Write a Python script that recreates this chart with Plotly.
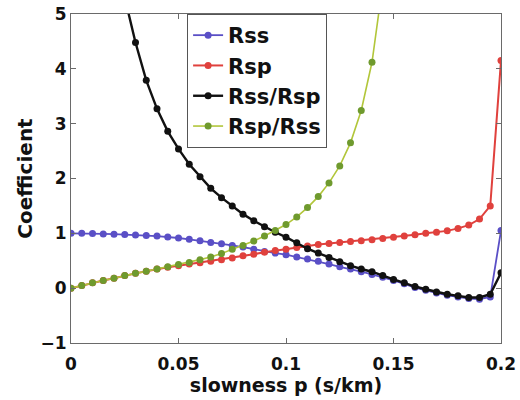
import plotly.graph_objects as go

# slowness samples (s/km)
p = [0.000, 0.005, 0.010, 0.015, 0.020, 0.025, 0.030, 0.035, 0.040, 0.045,
     0.050, 0.055, 0.060, 0.065, 0.070, 0.075, 0.080, 0.085, 0.090, 0.095,
     0.100, 0.105, 0.110, 0.115, 0.120, 0.125, 0.130, 0.135, 0.140, 0.145,
     0.150, 0.155, 0.160, 0.165, 0.170, 0.175, 0.180, 0.185, 0.190, 0.195,
     0.200]

rss = [1.00, 1.00, 0.995, 0.99, 0.985, 0.98, 0.97, 0.96, 0.95, 0.935,
       0.915, 0.89, 0.865, 0.835, 0.81, 0.78, 0.75, 0.71, 0.67, 0.64,
       0.61, 0.57, 0.53, 0.49, 0.44, 0.39, 0.35, 0.30, 0.25, 0.20,
       0.14, 0.08, 0.01, -0.04, -0.09, -0.13, -0.16, -0.19, -0.20, -0.16,
       1.05]

rsp = [0.00, 0.05, 0.10, 0.14, 0.18, 0.23, 0.27, 0.31, 0.35, 0.38,
       0.41, 0.44, 0.465, 0.49, 0.52, 0.55, 0.59, 0.62, 0.655, 0.685,
       0.71, 0.74, 0.77, 0.795, 0.815, 0.835, 0.85, 0.865, 0.885, 0.905,
       0.93, 0.95, 0.975, 1.00, 1.02, 1.045, 1.09, 1.15, 1.26, 1.50,
       4.15]

rss_over_rsp = [None, 26.0, 13.0, 8.6, 6.6, 5.3, 4.48, 3.79, 3.27, 2.86,
                2.54, 2.26, 2.03, 1.82, 1.65, 1.50, 1.35, 1.23, 1.12, 1.02,
                0.93, 0.83, 0.72, 0.64, 0.56, 0.48, 0.41, 0.35, 0.30, 0.23,
                0.16, 0.10, 0.03, -0.02, -0.07, -0.11, -0.14, -0.17, -0.17, -0.11,
                0.28]

rsp_over_rss = [0.00, 0.05, 0.10, 0.14, 0.18, 0.23, 0.27, 0.31, 0.35, 0.39,
                0.43, 0.47, 0.52, 0.57, 0.63, 0.71, 0.78, 0.86, 0.95, 1.05,
                1.16, 1.30, 1.47, 1.67, 1.92, 2.23, 2.65, 3.24, 4.12, 5.55,
                7.6, 11.5, None, None, None, None, None, None, None, None,
                None]

x_ticks = [0, 0.05, 0.1, 0.15, 0.2]
x_tick_text = ["0", "0.05", "0.1", "0.15", "0.2"]
y_ticks = [-1, 0, 1, 2, 3, 4, 5]
y_tick_text = ["\u22121", "0", "1", "2", "3", "4", "5"]

series = [
    ("Rss", rss, "#5a4fc6", "#5a4fc6", 1.8),
    ("Rsp", rsp, "#e0413d", "#e0413d", 2.0),
    ("Rss/Rsp", rss_over_rsp, "#111111", "#111111", 2.4),
    ("Rsp/Rss", rsp_over_rss, "#b2c63a", "#6f9a2e", 1.6),
]

FONT = "DejaVu Sans"

fig = go.Figure()
for name, vals, lcol, mcol, lw in series:
    fig.add_trace(go.Scatter(
        x=p, y=vals, name=name, mode="lines+markers",
        line=dict(color=lcol, width=lw),
        marker=dict(color=mcol, size=7),
        legendgroup=name,
        connectgaps=False,
    ))

axis_common = dict(
    showgrid=False, zeroline=False,
    showline=True, linecolor="#6a6a6a", linewidth=1, mirror="allticks",
    ticks="inside", ticklen=5, tickcolor="#6a6a6a", tickwidth=1,
    tickfont=dict(family=FONT, size=17, color="#111111", weight="bold"),
)

fig.update_xaxes(
    range=[0, 0.2], tickvals=x_ticks, ticktext=x_tick_text,
    ticklabelstandoff=6,
    title=dict(text="slowness p (s/km)", standoff=0,
               font=dict(family=FONT, size=19, color="#111111", weight="bold")),
    **axis_common,
)
fig.update_yaxes(
    range=[-1, 5], tickvals=y_ticks, ticktext=y_tick_text,
    title=dict(text="Coefficient", standoff=2,
               font=dict(family=FONT, size=20, color="#111111", weight="bold")),
    **axis_common,
)

fig.update_layout(
    width=520, height=400,
    margin=dict(l=71, r=19, t=14, b=57, autoexpand=False),
    paper_bgcolor="white", plot_bgcolor="white",
    legend=dict(
        x=0.27, y=1.0, xanchor="left", yanchor="top",
        bgcolor="white", bordercolor="#555555", borderwidth=1,
        font=dict(family=FONT, size=21, color="#111111", weight="bold"),
        tracegroupgap=0,
    ),
)

fig.write_html("out.html")
